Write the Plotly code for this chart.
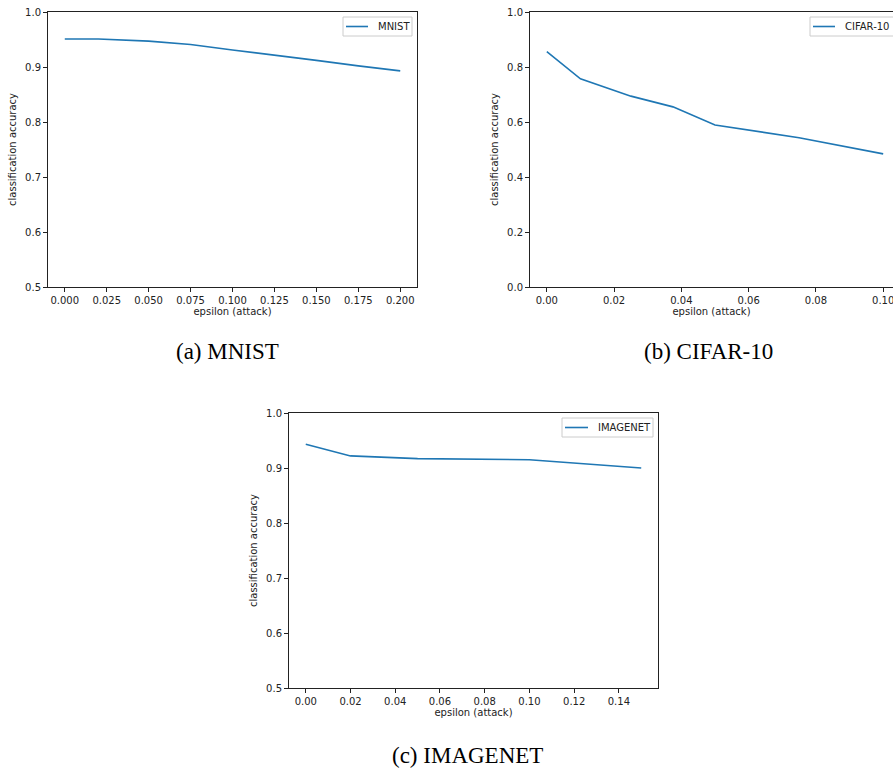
import plotly.graph_objects as go

# ---- data ----
mnist_eps = [0.0, 0.02, 0.05, 0.075, 0.1, 0.125, 0.15, 0.175, 0.2]
mnist_acc = [0.951, 0.951, 0.947, 0.941, 0.931, 0.922, 0.912, 0.902, 0.893]

cifar_eps = [0.0, 0.01, 0.025, 0.0375, 0.05, 0.075, 0.1]
cifar_acc = [0.856, 0.757, 0.694, 0.655, 0.589, 0.543, 0.484]

imagenet_eps = [0.0, 0.02, 0.05, 0.1, 0.15]
imagenet_acc = [0.943, 0.922, 0.917, 0.915, 0.900]

mnist_xticks = [0.0, 0.025, 0.05, 0.075, 0.1, 0.125, 0.15, 0.175, 0.2]
cifar_xticks = [0.0, 0.02, 0.04, 0.06, 0.08, 0.1]
imagenet_xticks = [0.0, 0.02, 0.04, 0.06, 0.08, 0.1, 0.12, 0.14]
acc_ticks_hi = [0.5, 0.6, 0.7, 0.8, 0.9, 1.0]
acc_ticks_full = [0.0, 0.2, 0.4, 0.6, 0.8, 1.0]

series_names = ["MNIST", "CIFAR-10", "IMAGENET"]
captions = ["(a) MNIST", "(b) CIFAR-10", "(c) IMAGENET"]

W, H = 893, 768
BLUE = "#1f77b4"
FONT = "DejaVu Sans"
INK = "#222"


def px_x(p):
    return p / W


def px_y(p):
    return 1 - p / H


fig = go.Figure()
fig.add_trace(go.Scatter(x=mnist_eps, y=mnist_acc, mode="lines", name=series_names[0],
                         line=dict(color=BLUE, width=1.6), xaxis="x", yaxis="y"))
fig.add_trace(go.Scatter(x=cifar_eps, y=cifar_acc, mode="lines", name=series_names[1],
                         line=dict(color=BLUE, width=1.6), xaxis="x2", yaxis="y2"))
fig.add_trace(go.Scatter(x=imagenet_eps, y=imagenet_acc, mode="lines", name=series_names[2],
                         line=dict(color=BLUE, width=1.6), xaxis="x3", yaxis="y3"))

tickfont = dict(family=FONT, size=10, color=INK)
titlefont = dict(family=FONT, size=10, color=INK)


def xax(domain, rng, ticks, fmt, anchor, mirror=True):
    return dict(domain=domain, range=rng, tickvals=ticks, tickformat=fmt,
                showline=True, linecolor=INK, linewidth=1, mirror=mirror,
                ticks="outside", ticklen=4, tickcolor=INK, tickwidth=1,
                showgrid=False, zeroline=False, tickfont=tickfont,
                ticklabeloverflow="allow",
                title=dict(text="epsilon (attack)", font=titlefont, standoff=2),
                anchor=anchor, automargin=False, fixedrange=True)


def yax(domain, rng, ticks, anchor, mirror=True):
    return dict(domain=domain, range=rng, tickvals=ticks, tickformat=".1f",
                showline=True, linecolor=INK, linewidth=1, mirror=mirror,
                ticks="outside", ticklen=4, tickcolor=INK, tickwidth=1,
                showgrid=False, zeroline=False, tickfont=tickfont,
                ticklabeloverflow="allow",
                title=dict(text="classification accuracy", font=titlefont, standoff=6),
                anchor=anchor, automargin=False, fixedrange=True)


top_dom = [px_y(287), px_y(12)]
bot_dom = [px_y(688), px_y(413)]

cifar_hi = -0.005 + 0.11 * (W - 530) / 370.0

fig.update_layout(
    width=W, height=H,
    margin=dict(l=0, r=0, t=0, b=0),
    paper_bgcolor="white", plot_bgcolor="white",
    showlegend=False,
    xaxis=xax([px_x(48), px_x(417)], [-0.01, 0.21], mnist_xticks, ".3f", "y"),
    yaxis=yax(top_dom, [0.5, 1.0], acc_ticks_hi, "x"),
    xaxis2=xax([px_x(530), 1.0], [-0.005, cifar_hi], cifar_xticks, ".2f", "y2"),
    yaxis2=yax(top_dom, [0.0, 1.0], acc_ticks_full, "x2", mirror=False),
    xaxis3=xax([px_x(289), px_x(658)], [-0.0075, 0.1575], imagenet_xticks, ".2f", "y3"),
    yaxis3=yax(bot_dom, [0.5, 1.0], acc_ticks_hi, "x3"),
)

# hand-drawn legends (box, line sample, label) placed like matplotlib's
legend_boxes = [
    # (box x0, box x1, box y0, box y1, line x0, line x1, text x)
    (343, 412, 17, 36, 346, 368, 376),
    (810, 905, 17, 36, 813, 835, 843),
    (562, 653, 418, 437, 565, 588, 596),
]
for name, (bx0, bx1, by0, by1, lx0, lx1, tx) in zip(series_names, legend_boxes):
    fig.add_shape(type="rect", xref="paper", yref="paper",
                  x0=px_x(bx0), x1=px_x(bx1), y0=px_y(by1), y1=px_y(by0),
                  line=dict(color="#cccccc", width=1), fillcolor="rgba(255,255,255,0.8)")
    ym = (by0 + by1) / 2
    fig.add_shape(type="line", xref="paper", yref="paper",
                  x0=px_x(lx0), x1=px_x(lx1), y0=px_y(ym), y1=px_y(ym),
                  line=dict(color=BLUE, width=1.6))
    fig.add_annotation(text=name, x=px_x(tx), y=px_y(ym), xref="paper", yref="paper",
                       showarrow=False, xanchor="left", yanchor="middle",
                       font=dict(family=FONT, size=10, color=INK))

cap_pos = [(227, 352), (708, 352), (467, 755)]
for text, (cx, cy) in zip(captions, cap_pos):
    fig.add_annotation(text=text, x=px_x(cx), y=px_y(cy), xref="paper", yref="paper",
                       showarrow=False, xanchor="center", yanchor="middle",
                       font=dict(family="Liberation Serif", size=23, color="black"))

fig.write_html("out.html", config={"displayModeBar": False},
               post_script="document.body.style.margin='0';document.body.style.overflow='hidden';")
